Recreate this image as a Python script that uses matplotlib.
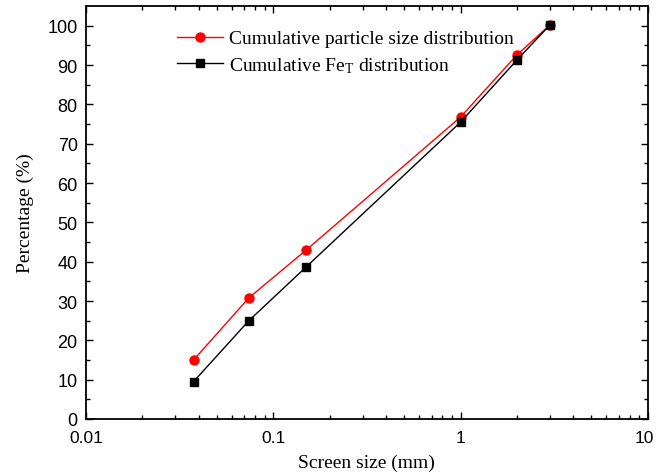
import matplotlib
matplotlib.use("Agg")
import matplotlib.pyplot as plt
import matplotlib.transforms as mtransforms
from matplotlib.ticker import FixedLocator, NullFormatter, LogLocator

screen_size = [0.0375, 0.074, 0.15, 1.0, 2.0, 3.0]
cum_particle = [15.0, 30.8, 43.0, 76.8, 92.6, 100.2]
cum_fe = [9.5, 25.0, 38.7, 75.5, 91.3, 100.2]
x_ticks = [0.01, 0.1, 1, 10]
x_ticklabels = ["0.01", "0.1", "1", "10"]

plt.rcParams["mathtext.fontset"] = "custom"
plt.rcParams["mathtext.rm"] = "Liberation Serif"
plt.rcParams["mathtext.it"] = "Liberation Serif:italic"

fig = plt.figure(figsize=(6.57, 4.77), dpi=100)
ax = fig.add_axes([0.131, 0.1195, 0.855, 0.8655])

ax.plot(screen_size, cum_particle, color="red", lw=1.0, marker="o", ms=6.5,
        label="Cumulative particle size distribution")
ax.plot(screen_size, cum_fe, color="black", lw=1.0, marker="s", ms=5.5,
        label=r"Cumulative Fe$_\mathrm{T}$ distribution")

ax.set_xscale("log")
ax.set_xlim(0.01, 10)
ax.set_ylim(0, 105)
ax.xaxis.set_major_locator(FixedLocator(x_ticks))
ax.xaxis.set_minor_locator(LogLocator(base=10, subs=range(2, 10)))
ax.xaxis.set_minor_formatter(NullFormatter())
ax.set_xticklabels(x_ticklabels)
ax.set_yticks(range(0, 101, 10))
ax.set_yticks(range(5, 101, 10), minor=True)

ax.tick_params(which="both", direction="in", top=True, right=True,
               labelsize=13, width=1.0)
ax.tick_params(which="major", length=5)
ax.tick_params(which="minor", length=3)
ax.tick_params(axis="x", which="major", pad=8, labelsize=12.5)
ax.tick_params(axis="y", which="major", pad=6)
for lab in ax.get_xticklabels() + ax.get_yticklabels():
    lab.set_fontfamily("Liberation Sans")
# keep the last x label inside the canvas
last = ax.get_xticklabels()[-1]
last.set_transform(last.get_transform() +
                   mtransforms.ScaledTranslation(-3 / 100, 0, fig.dpi_scale_trans))
for sp in ax.spines.values():
    sp.set_linewidth(1.3)

ax.set_xlabel("Screen size (mm)", family="Liberation Serif", fontsize=14, labelpad=6)
ax.set_ylabel("Percentage (%)", family="Liberation Serif", fontsize=14, labelpad=10)

ax.legend(loc="upper left", bbox_to_anchor=(0.13, 0.985), frameon=False,
          prop={"family": "Liberation Serif", "size": 14},
          handlelength=2.4, handletextpad=0.3, labelspacing=0.4)

fig.savefig("out.png", dpi=100)
